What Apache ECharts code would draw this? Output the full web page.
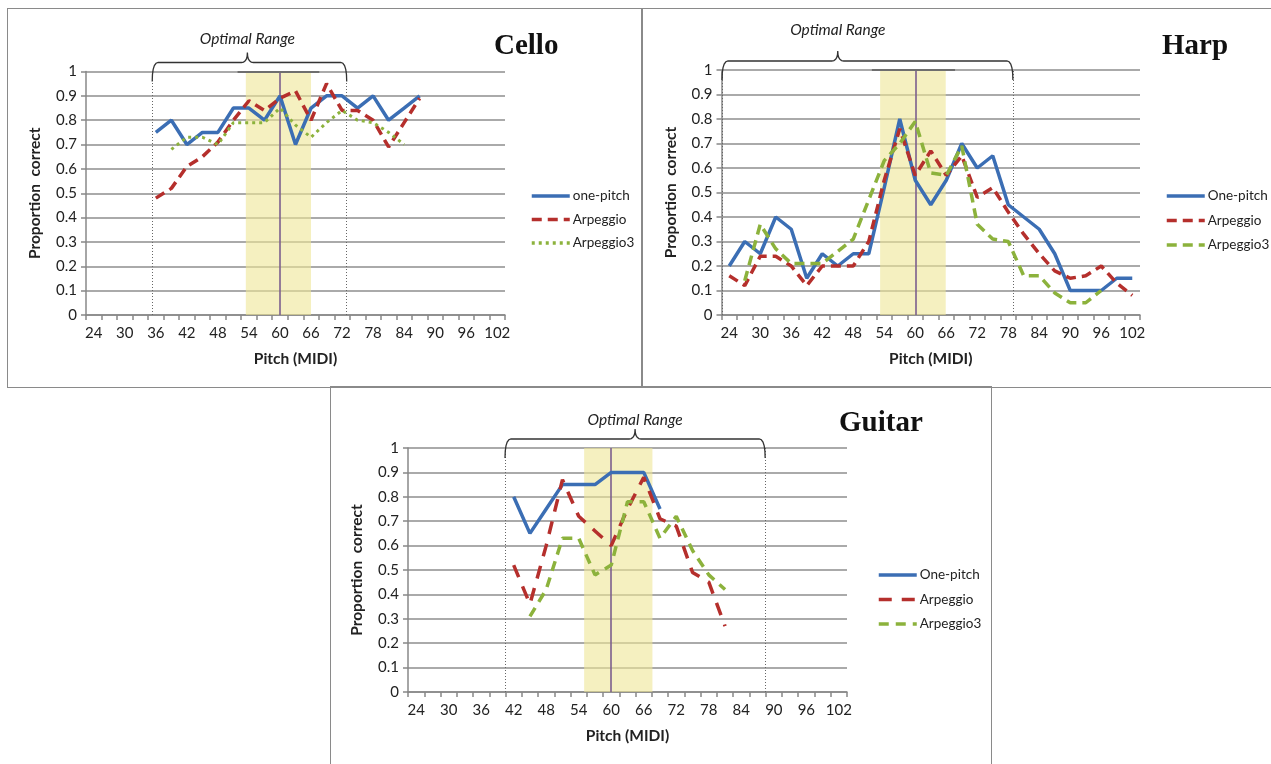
<!DOCTYPE html>
<html>
<head>
<meta charset="utf-8">
<script src="https://cdn.jsdelivr.net/npm/echarts@6/dist/echarts.min.js"></script>
<style>
  body { margin: 0; background: #fff; width: 1271px; height: 764px; overflow: hidden; position: relative; }
  .chart { position: absolute; }
  .frame { position: absolute; border: 1.5px solid #8a8a8a; box-sizing: border-box; pointer-events: none; }
</style>
</head>
<body>
<div id="cello" class="chart" style="left:8px;top:9px;width:633px;height:377px"></div>
<div id="harp" class="chart" style="left:641px;top:9px;width:630px;height:377px"></div>
<div id="guitar" class="chart" style="left:331px;top:386px;width:660px;height:378px"></div>
<div class="frame" style="left:7px;top:8px;width:636px;height:380px"></div>
<div class="frame" style="left:641px;top:8px;width:640px;height:380px"></div>
<div class="frame" style="left:330px;top:386px;width:662px;height:400px"></div>
<script>
(function() {

    // pitch categories (MIDI), every 3 semitones
    var pitches = ['24', '27', '30', '33', '36', '39', '42', '45', '48', '51', '54', '57', '60', '63',
        '66', '69', '72', '75', '78', '81', '84', '87', '90', '93', '96', '99', '102'];

    // Cello
    var celloOnePitch = [null, null, null, null, 0.75, 0.80, 0.70, 0.75, 0.75, 0.85, 0.85, 0.80, 0.90, 0.70,
        0.85, 0.90, 0.90, 0.85, 0.90, 0.80, 0.85, 0.90, null, null, null, null, null];
    var celloArpeggio = [null, null, null, null, 0.48, 0.52, 0.61, 0.65, 0.71, 0.80, 0.88, 0.84, 0.89, 0.92,
        0.80, 0.95, 0.84, 0.84, 0.80, 0.69, 0.79, 0.89, null, null, null, null, null];
    var celloArpeggio3 = [null, null, null, null, null, 0.68, 0.73, 0.73, 0.70, 0.79, 0.79, 0.79, 0.85, 0.78,
        0.73, 0.79, 0.84, 0.80, 0.79, 0.75, 0.70, null, null, null, null, null, null];

    // Harp
    var harpOnePitch = [0.20, 0.30, 0.25, 0.40, 0.35, 0.15, 0.25, 0.20, 0.25, 0.25, 0.52, 0.80, 0.55, 0.45,
        0.55, 0.70, 0.60, 0.65, 0.45, 0.40, 0.35, 0.25, 0.10, 0.10, 0.10, 0.15, 0.15];
    var harpArpeggio = [0.16, 0.12, 0.24, 0.24, 0.20, 0.12, 0.20, 0.20, 0.20, 0.30, 0.55, 0.76, 0.57, 0.67,
        0.57, 0.65, 0.48, 0.52, 0.42, 0.33, 0.25, 0.18, 0.15, 0.16, 0.20, 0.13, 0.08];
    var harpArpeggio3 = [null, 0.14, 0.37, 0.27, 0.21, 0.21, 0.21, 0.26, 0.31, 0.47, 0.63, 0.70, 0.79, 0.58,
        0.57, 0.69, 0.37, 0.31, 0.30, 0.16, 0.16, 0.09, 0.05, 0.05, 0.10, null, null];

    // Guitar
    var guitarOnePitch = [null, null, null, null, null, null, 0.80, 0.65, 0.75, 0.85, 0.85, 0.85, 0.90, 0.90,
        0.90, 0.75, null, null, null, null, null, null, null, null, null, null, null];
    var guitarArpeggio = [null, null, null, null, null, null, 0.52, 0.36, 0.60, 0.87, 0.72, 0.66, 0.60, 0.75,
        0.88, 0.71, 0.68, 0.49, 0.45, 0.27, null, null, null, null, null, null, null];
    var guitarArpeggio3 = [null, null, null, null, null, null, null, 0.31, 0.42, 0.63, 0.63, 0.48, 0.52, 0.78,
        0.78, 0.63, 0.72, 0.58, 0.48, 0.42, null, null, null, null, null, null, null];

    // annotations, in pitch units
    var celloRange = [35.3, 72.9], celloTip = 53.7, celloBand = [53.4, 66.0], celloBar = [51.8, 67.6];
    var harpRange = [22.6, 78.9], harpTip = 45.0, harpBand = [53.2, 65.9], harpBar = [51.6, 67.7];
    var guitarRange = [40.4, 88.4], guitarTip = 64.4, guitarBand = [55.0, 67.6], guitarBar = null;

    var BLUE = '#3b6eb4', RED = '#b52f2c', GREEN = '#8cb23c';
    var FONT = 'Lato, "Open Sans", sans-serif';

    function lineSeries(name, data, color, dash, width) {
        return {
            name: name,
            type: 'line',
            data: data,
            symbol: 'none',
            showSymbol: false,
            connectNulls: false,
            z: 5,
            lineStyle: { color: color, width: width || 3.5, type: dash || 'solid' },
            itemStyle: { color: color }
        };
    }

    // points along a quadratic curve, for the brace corners
    function quad(p0, c, p1) {
        var pts = [];
        for (var t = 0; t <= 1.0001; t += 0.2) {
            var a = (1 - t) * (1 - t), b = 2 * (1 - t) * t, d = t * t;
            pts.push([a * p0[0] + b * c[0] + d * p1[0], a * p0[1] + b * c[1] + d * p1[1]]);
        }
        return pts;
    }

    function makePanel(id, cfg) {

        var chart = echarts.init(document.getElementById(id));

        var markLines = [
            { xAxis: cfg.range[0], lineStyle: { color: '#666', width: 1, type: [1, 2] } },
            { xAxis: cfg.range[1], lineStyle: { color: '#666', width: 1, type: [1, 2] } },
            { xAxis: 60, lineStyle: { color: '#7c5f8f', width: 1.6, type: 'solid' } }
        ];
        if (cfg.bar) {
            markLines.push([
                { coord: [cfg.bar[0], 1], lineStyle: { color: '#6e6e6e', width: 2, type: 'solid' } },
                { coord: [cfg.bar[1], 1] }
            ]);
        }

        var option = {
            animation: false,
            title: {
                text: cfg.title,
                left: cfg.titlePos[0],
                top: cfg.titlePos[1],
                textStyle: { fontFamily: '"Liberation Serif", serif', fontWeight: 'bold', fontSize: 29, color: '#111' }
            },
            legend: {
                orient: 'vertical',
                left: cfg.legendPos[0],
                top: cfg.legendPos[1],
                padding: 0,
                itemWidth: 38,
                itemHeight: 12,
                itemGap: cfg.legendGap,
                data: cfg.names,
                itemStyle: { opacity: 0 },
                lineStyle: { width: 3.5 },
                textStyle: { fontFamily: FONT, fontSize: 13.5, color: '#222', padding: [0, 0, 0, -2] }
            },
            grid: cfg.grid,
            xAxis: [{
                type: 'category',
                data: pitches,
                boundaryGap: true,
                name: 'Pitch (MIDI)',
                nameLocation: 'middle',
                nameGap: 36,
                nameTextStyle: { fontFamily: FONT, fontWeight: 'bold', fontSize: 15.5, color: '#222' },
                axisLine: { lineStyle: { color: '#888', width: 1.5 } },
                axisTick: { show: true, interval: 0, length: 5, lineStyle: { color: '#888', width: 1.5 } },
                axisLabel: { interval: 1, margin: 11, fontFamily: FONT, fontSize: 15, color: '#222' },
                splitLine: { show: false }
            }, {
                type: 'value',
                min: 22.5,
                max: 103.5,
                show: false
            }],
            yAxis: {
                type: 'value',
                min: 0,
                max: 1,
                interval: 0.1,
                name: 'Proportion  correct',
                nameLocation: 'middle',
                nameGap: 43,
                nameTextStyle: { fontFamily: FONT, fontWeight: 'bold', fontSize: 15.5, color: '#222' },
                axisLine: { show: true, lineStyle: { color: '#888', width: 1.5 } },
                axisTick: { show: true, length: 5, lineStyle: { color: '#888', width: 1.5 } },
                axisLabel: { margin: 9, fontFamily: FONT, fontSize: 15, color: '#222',
                    formatter: function(v) { return String(Math.round(v * 10) / 10); } },
                splitLine: { lineStyle: { color: '#8e8e8e', width: 1.5 } }
            },
            series: [
                lineSeries(cfg.names[0], cfg.data[0], BLUE),
                lineSeries(cfg.names[1], cfg.data[1], RED, cfg.dash[1]),
                lineSeries(cfg.names[2], cfg.data[2], GREEN, cfg.dash[2], cfg.greenWidth),
                {
                    name: '_marks',
                    type: 'line',
                    xAxisIndex: 1,
                    yAxisIndex: 0,
                    data: [],
                    silent: true,
                    z: 1,
                    markArea: {
                        silent: true,
                        itemStyle: { color: 'rgba(238,230,150,0.6)' },
                        data: [[{ xAxis: cfg.band[0] }, { xAxis: cfg.band[1] }]]
                    },
                    markLine: {
                        silent: true,
                        symbol: 'none',
                        label: { show: false },
                        data: markLines
                    }
                }
            ]
        };

        chart.setOption(option);

        // brace over the optimal range
        var toPx = function(x, y) {
            return chart.convertToPixel({ xAxisIndex: 1, yAxisIndex: 0 }, [x, y]);
        };
        var top = toPx(cfg.range[0], 1)[1];
        var xl = toPx(cfg.range[0], 1)[0];
        var xr = toPx(cfg.range[1], 1)[0];
        var xm = toPx(cfg.tip, 1)[0];
        var yLine = top - 9, yEnd = top + 10, yTip = top - 19, r = 6;

        var pts = []
            .concat(quad([xl, yEnd], [xl, yLine], [xl + r, yLine]))
            .concat(quad([xm - r, yLine], [xm, yLine], [xm, yTip]))
            .concat(quad([xm, yTip], [xm, yLine], [xm + r, yLine]))
            .concat(quad([xr - r, yLine], [xr, yLine], [xr, yEnd]));

        chart.setOption({
            graphic: [{
                type: 'polyline',
                shape: { points: pts },
                style: { fill: null, stroke: '#333', lineWidth: 1.3 },
                z: 10
            }, {
                type: 'text',
                x: xm,
                y: top + cfg.labelDy,
                style: {
                    text: 'Optimal Range',
                    fill: '#222',
                    font: 'italic 15.5px ' + FONT,
                    align: 'center',
                    verticalAlign: 'middle'
                },
                z: 10
            }]
        });

        return chart;
    }

    makePanel('cello', {
        title: 'Cello',
        titlePos: [481, 18],
        legendPos: [522, 180],
        legendGap: 9.5,
        grid: { left: 78, top: 62.5, width: 419, height: 243.5 },
        names: ['one-pitch', 'Arpeggio', 'Arpeggio3'],
        data: [celloOnePitch, celloArpeggio, celloArpeggio3],
        dash: [null, [10, 6], [3, 4]],
        greenWidth: 3,
        range: celloRange,
        tip: celloTip,
        band: celloBand,
        bar: celloBar,
        labelDy: -33
    });

    makePanel('harp', {
        title: 'Harp',
        titlePos: [516, 18],
        legendPos: [524, 180],
        legendGap: 10.5,
        grid: { left: 80.5, top: 61, width: 418.5, height: 245 },
        names: ['One-pitch', 'Arpeggio', 'Arpeggio3'],
        data: [harpOnePitch, harpArpeggio, harpArpeggio3],
        dash: [null, [10, 6], [10, 6]],
        range: harpRange,
        tip: harpTip,
        band: harpBand,
        bar: harpBar,
        labelDy: -40
    });

    makePanel('guitar', {
        title: 'Guitar',
        titlePos: [503, 18],
        legendPos: [546, 182],
        legendGap: 10.5,
        grid: { left: 77, top: 62, width: 439, height: 244 },
        names: ['One-pitch', 'Arpeggio', 'Arpeggio3'],
        data: [guitarOnePitch, guitarArpeggio, guitarArpeggio3],
        dash: [null, [13, 10], [10, 7]],
        range: guitarRange,
        tip: guitarTip,
        band: guitarBand,
        bar: guitarBar,
        labelDy: -28
    });

})();
</script>
</body>
</html>
